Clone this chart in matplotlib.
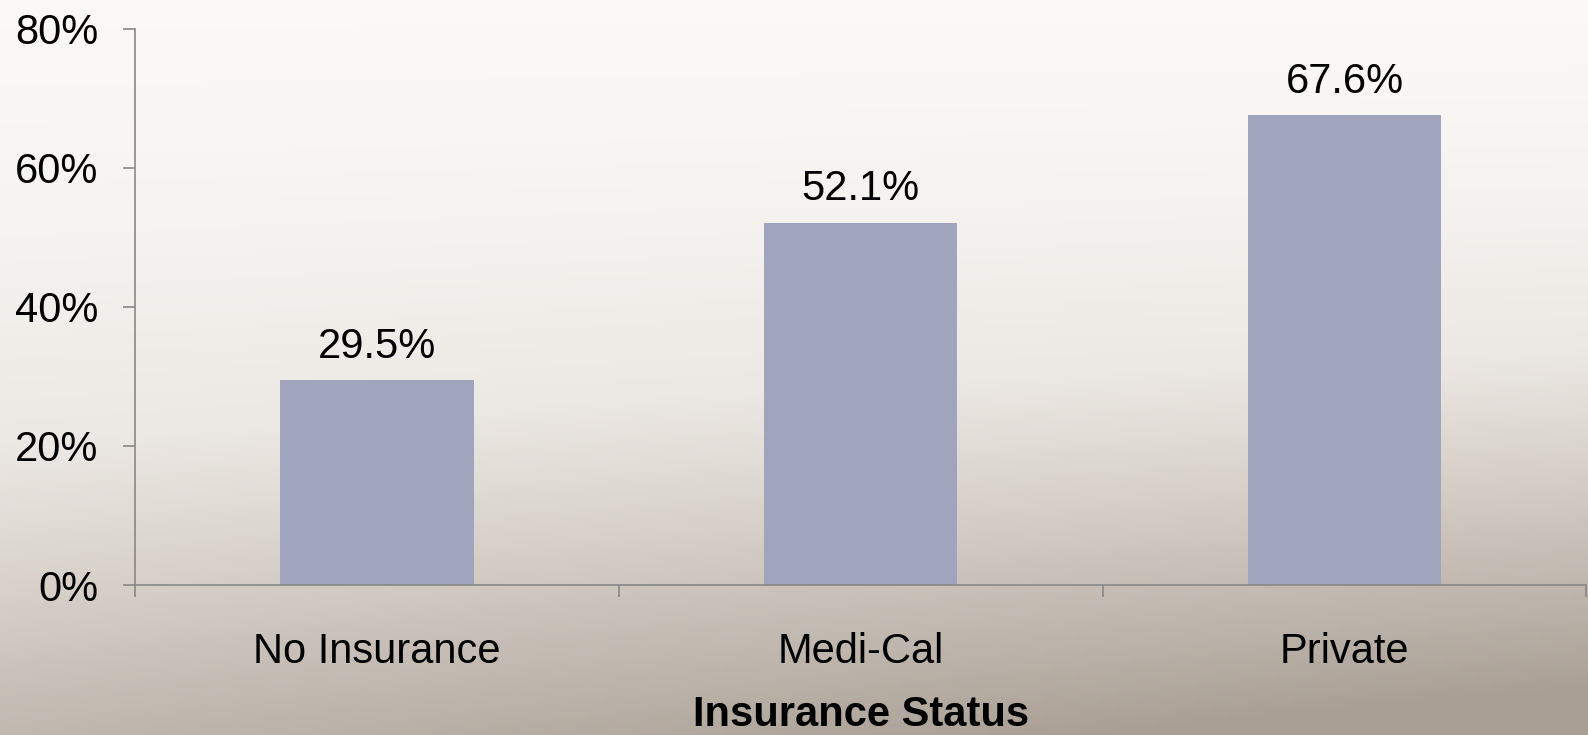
import numpy as np
import matplotlib
matplotlib.use("Agg")
import matplotlib.pyplot as plt
from matplotlib.colors import LinearSegmentedColormap

plt.rcParams["font.family"] = ["Liberation Sans", "DejaVu Sans"]

categories = ["No Insurance", "Medi-Cal", "Private"]
values = [29.5, 52.1, 67.6]
value_labels = ["29.5%", "52.1%", "67.6%"]
ytick_vals = [0, 20, 40, 60, 80]
ytick_labels = ["0%", "20%", "40%", "60%", "80%"]

fig = plt.figure(figsize=(15.88, 7.35), dpi=100)

# gradient background
bg = fig.add_axes([0, 0, 1, 1], zorder=-10)
bg.axis("off")
yy, xx = np.mgrid[0:1:200j, 0:1:300j]
t = np.clip(yy ** 1.6 * (0.75 + 0.35 * xx), 0, 1)
cmap = LinearSegmentedColormap.from_list("bgc", ["#faf9f7", "#ece8e3", "#c9c1b9", "#a99f95"])
bg.imshow(t, cmap=cmap, aspect="auto", extent=[0, 1, 0, 1], vmin=0, vmax=1, origin="upper")

fs = 30
ax = fig.add_axes([0.085, 0.204, 0.914, 0.757])
ax.patch.set_alpha(0)
x = np.arange(len(categories))
bars = ax.bar(x, values, width=0.4, color="#a0a5bd")
for xi, v, lab in zip(x, values, value_labels):
    ax.text(xi, v + 4.8, lab, ha="center", va="center", fontsize=fs)

ax.set_xlim(-0.5, len(categories) - 0.5)
ax.set_ylim(0, 80)
ax.set_yticks(ytick_vals)
ax.set_yticklabels(ytick_labels, fontsize=fs)
ax.set_xticks(x)
ax.set_xticklabels(categories, fontsize=fs)
ax.set_xticks(np.arange(-0.5, len(categories)), minor=True)
ax.tick_params(axis="x", which="major", length=0, pad=34)
ax.tick_params(axis="x", which="minor", length=8.6, color="#888888", width=1.2)
ax.tick_params(axis="y", length=8.6, color="#888888", width=1.2, pad=18)
for s in ["top", "right"]:
    ax.spines[s].set_visible(False)
for s in ["left", "bottom"]:
    ax.spines[s].set_color("#888888")
    ax.spines[s].set_linewidth(1.2)
ax.set_xlabel("Insurance Status", fontsize=fs, fontweight="bold", labelpad=16)

plt.savefig("out.png", dpi=100)
